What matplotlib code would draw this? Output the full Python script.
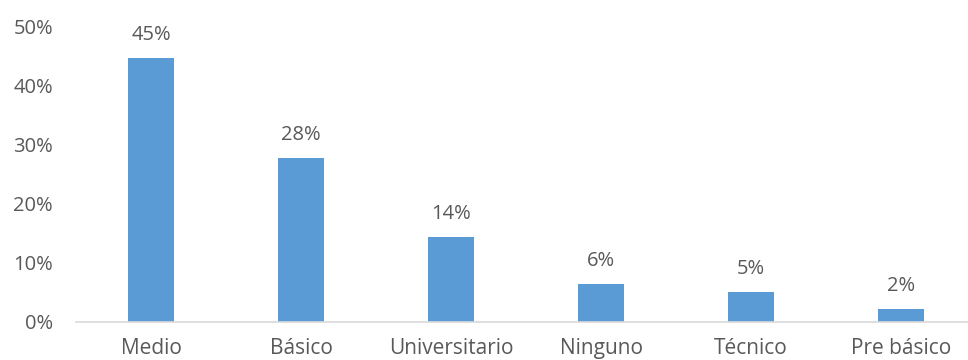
#!/usr/bin/env python3

import matplotlib
matplotlib.use('Agg')
import matplotlib.pyplot as plt
from matplotlib.ticker import PercentFormatter

categories = ['Medio', 'Básico', 'Universitario', 'Ninguno', 'Técnico', 'Pre básico']
values = [0.446, 0.277, 0.143, 0.064, 0.051, 0.021]
labels = ['45%', '28%', '14%', '6%', '5%', '2%']

plt.rcParams['font.family'] = ['Open Sans', 'DejaVu Sans']
grey = '#595959'

fig = plt.figure(figsize=(9.68, 3.6), dpi=100)
W, H = 968, 360
ax = fig.add_axes([76 / W, (H - 321.7) / H, (W - 76) / W, (321.7 - 26) / H])

x = range(len(categories))
ax.bar(x, values, width=0.307, color='#5B9BD5')

# data labels above the bars
for xi, v, lab in zip(x, values, labels):
    ax.annotate(lab, (xi, v), xytext=(0, 18), textcoords='offset pixels',
                ha='center', va='baseline', fontsize=14.5, color=grey)

ax.set_xlim(-0.5, (W - 76) / 150 - 0.5)
ax.set_ylim(0, 0.5)
ax.set_yticks([0, 0.1, 0.2, 0.3, 0.4, 0.5])
ax.yaxis.set_major_formatter(PercentFormatter(1.0, decimals=0))
ax.set_xticks(list(x))
ax.set_xticklabels(categories)

ax.tick_params(axis='y', length=0, pad=16.5, labelsize=14.5, labelcolor=grey)
ax.tick_params(axis='x', length=0, pad=11.5, labelsize=15, labelcolor=grey)

for side in ['top', 'right', 'left']:
    ax.spines[side].set_visible(False)
ax.spines['bottom'].set_color('#D9D9D9')
ax.spines['bottom'].set_linewidth(1.2)

plt.savefig('out.png', dpi=100)
plt.close()
